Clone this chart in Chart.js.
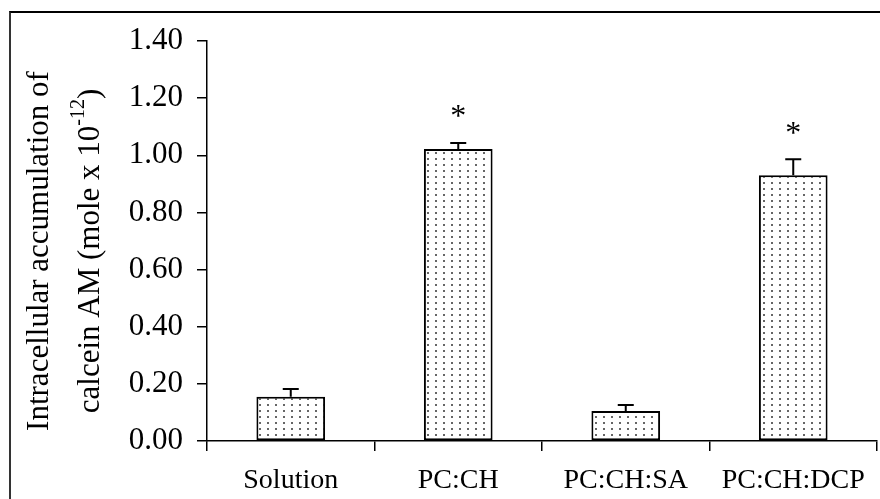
<!DOCTYPE html>
<html>
<head>
<meta charset="utf-8">
<script src="https://cdn.jsdelivr.net/npm/chart.js@4/dist/chart.umd.min.js"></script>
<style>
  html, body { margin: 0; padding: 0; background: #fff; }
  #wrap { position: relative; width: 880px; height: 499px; }
  #frame { position: absolute; left: 9px; top: 11px; width: 880px; height: 500px; border-left: 2px solid #333; border-top: 2px solid #000; }
</style>
</head>
<body>
<div id="wrap">
  <div id="frame"></div>
  <canvas id="chart1" width="880" height="499" style="position:absolute;left:0;top:0"></canvas>
</div>
<script>
// data
const categories = ["Solution", "PC:CH", "PC:CH:SA", "PC:CH:DCP"];
const means = [0.155, 1.022, 0.105, 0.930];
const errors = [0.027, 0.021, 0.021, 0.056];
const significant = [false, true, false, true];
const yTicks = [0, 0.2, 0.4, 0.6, 0.8, 1.0, 1.2, 1.4];

const serif = "'Liberation Serif', 'Times New Roman', serif";

// dotted fill like the original
const makePattern = () => {
  const c = document.createElement("canvas");
  c.width = 8;
  c.height = 6;
  const g = c.getContext("2d");
  g.fillStyle = "#fff";
  g.fillRect(0, 0, 8, 6);
  g.fillStyle = "#666";
  g.fillRect(3, 2, 2, 2);
  return g.createPattern(c, "repeat");
};

// error bars (upper half only) and asterisks
const extrasPlugin = {
  id: "extras",
  afterDatasetsDraw(chart) {
    const ctx = chart.ctx;
    const y = chart.scales.y;
    const meta = chart.getDatasetMeta(0);
    ctx.save();
    ctx.strokeStyle = "#000";
    ctx.lineWidth = 2;
    meta.data.forEach((bar, i) => {
      const top = y.getPixelForValue(means[i]);
      const errTop = y.getPixelForValue(means[i] + errors[i]);
      ctx.beginPath();
      ctx.moveTo(bar.x, top);
      ctx.lineTo(bar.x, errTop);
      ctx.moveTo(bar.x - 8, errTop);
      ctx.lineTo(bar.x + 8, errTop);
      ctx.stroke();
      if (significant[i]) {
        ctx.fillStyle = "#000";
        ctx.font = "32px " + serif;
        ctx.textAlign = "center";
        ctx.textBaseline = "middle";
        ctx.fillText("*", bar.x, errTop - 25);
      }
    });
    ctx.restore();
  },
};

// two line y title with a superscript
const yTitlePlugin = {
  id: "yTitle",
  afterDraw(chart) {
    const ctx = chart.ctx;
    const area = chart.chartArea;
    const cy = (area.top + area.bottom) / 2 + 10;
    ctx.save();
    ctx.fillStyle = "#000";
    ctx.textBaseline = "middle";
    ctx.font = "31px " + serif;
    ctx.translate(40, cy);
    ctx.rotate(-Math.PI / 2);
    ctx.textAlign = "center";
    ctx.fillText("Intracellular accumulation of", 0, 0);
    ctx.restore();

    ctx.save();
    ctx.fillStyle = "#000";
    ctx.textBaseline = "middle";
    ctx.translate(91, cy);
    ctx.rotate(-Math.PI / 2);
    const main = "calcein AM (mole x 10";
    const sup = "-12";
    const tail = ")";
    ctx.font = "31px " + serif;
    const wMain = ctx.measureText(main).width;
    const wTail = ctx.measureText(tail).width;
    ctx.font = "20px " + serif;
    const wSup = ctx.measureText(sup).width;
    let x = -(wMain + wSup + wTail) / 2;
    ctx.textAlign = "left";
    ctx.font = "31px " + serif;
    ctx.fillText(main, x, 0);
    x += wMain;
    ctx.font = "20px " + serif;
    ctx.fillText(sup, x, -12);
    x += wSup;
    ctx.font = "31px " + serif;
    ctx.fillText(tail, x, 0);
    ctx.restore();
  },
};

const chart = new Chart(document.getElementById("chart1"), {
  type: "bar",
  data: {
    labels: categories,
    datasets: [
      {
        data: means,
        backgroundColor: makePattern(),
        borderColor: "#000",
        borderWidth: 2,
        borderSkipped: false,
        categoryPercentage: 1,
        barPercentage: 0.41,
      },
    ],
  },
  options: {
    responsive: false,
    animation: false,
    layout: { padding: { top: 41, right: 3, left: 0, bottom: 0 } },
    plugins: { legend: { display: false }, tooltip: { enabled: false } },
    scales: {
      x: {
        afterFit: (s) => { s.height = 58; },
        grid: { offset: true, drawOnChartArea: false, tickLength: 10, color: "#000", lineWidth: 1.5 },
        border: { color: "#000", width: 1.5 },
        ticks: { color: "#000", font: { family: serif, size: 28 }, padding: 13, maxRotation: 0 },
      },
      y: {
        min: 0,
        max: 1.4,
        afterFit: (s) => { s.width = 207; },
        afterBuildTicks: (s) => { s.ticks = yTicks.map((v) => ({ value: v })); },
        grid: { drawOnChartArea: false, tickLength: 10, color: "#000", lineWidth: 1.5 },
        border: { color: "#000", width: 1.5 },
        ticks: {
          color: "#000",
          font: { family: serif, size: 31 },
          padding: 14,
          callback: (v) => Number(v).toFixed(2),
        },
      },
    },
  },
  plugins: [extrasPlugin, yTitlePlugin],
});
</script>
</body>
</html>
